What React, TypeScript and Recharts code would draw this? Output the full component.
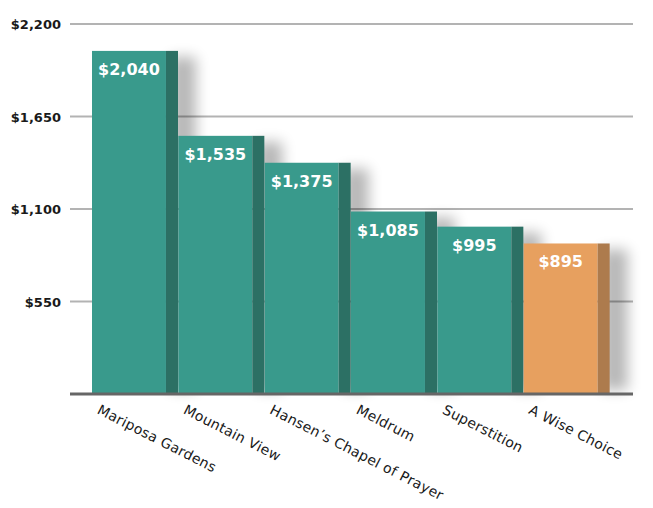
import React from "react";
import { Bar, BarChart, CartesianGrid, Cell, LabelList, XAxis, YAxis } from "recharts";

const categories = [
  "Mariposa Gardens",
  "Mountain View",
  "Hansen’s Chapel of Prayer",
  "Meldrum",
  "Superstition",
  "A Wise Choice",
];
const prices = [2040, 1535, 1375, 1085, 995, 895];
const priceTicks = [550, 1100, 1650, 2200];
const highlighted = "A Wise Choice";

const chartData = categories.map((name, i) => ({ name, price: prices[i] }));

const fmt = (v: number) => "$" + v.toLocaleString("en-US");

const FONT = "'DejaVu Sans', sans-serif";
const FRONT = 0.86;

function Block(props: any) {
  const { x, y, width, height, index, payload } = props;
  const orange = payload && payload.name === highlighted;
  const front = orange ? "#e7a05f" : "#399a8c";
  const side = orange ? "#ad7b4d" : "#2c7064";
  const fw = width * FRONT;
  const fid = `blk-shadow-${index}`;
  return (
    <g>
      <defs>
        <filter id={fid} x="-200%" y="-50%" width="500%" height="200%">
          <feGaussianBlur stdDeviation="7" />
        </filter>
      </defs>
      <rect
        x={x + width - 8}
        y={y + 6}
        width={26}
        height={Math.max(0, height - 10)}
        fill="#000"
        opacity={0.28}
        filter={`url(#${fid})`}
      />
      <rect x={x} y={y} width={fw} height={height} fill={front} />
      <rect x={x + fw} y={y} width={width - fw} height={height} fill={side} />
    </g>
  );
}

function PriceLabel(props: any) {
  const { x, y, width, value } = props;
  return (
    <text
      x={x + (width * FRONT) / 2}
      y={y + 24}
      textAnchor="middle"
      fill="#fff"
      fontFamily={FONT}
      fontWeight={700}
      fontSize={16}
    >
      {fmt(value)}
    </text>
  );
}

function CategoryTick(props: any) {
  const { x, y, payload } = props;
  const x0 = x - 39;
  const y0 = y + 11;
  return (
    <text
      x={x0}
      y={y0}
      transform={`rotate(27, ${x0}, ${y0})`}
      textAnchor="start"
      fill="#1a1a1a"
      fontFamily={FONT}
      fontSize={14}
      letterSpacing={0.3}
    >
      {payload.value}
    </text>
  );
}

function PriceTick(props: any) {
  const { y, payload } = props;
  return (
    <text
      x={61}
      y={y + 5}
      textAnchor="end"
      fill="#1a1a1a"
      fontFamily={FONT}
      fontWeight={700}
      fontSize={13}
    >
      {fmt(payload.value)}
    </text>
  );
}

export default function App() {
  return (
    <div style={{ position: "absolute", left: 0, top: 0, width: 653, height: 508, background: "#fff" }}>
      <BarChart
        width={653}
        height={508}
        data={chartData}
        margin={{ top: 24, right: 20, left: 0, bottom: 0 }}
        barCategoryGap={0}
        barGap={0}
      >
        <CartesianGrid vertical={false} stroke="#b3b3b3" strokeWidth={2} />
        <YAxis
          width={70}
          domain={[0, 2200]}
          ticks={priceTicks}
          axisLine={false}
          tickLine={false}
          tick={<PriceTick />}
        />
        <XAxis
          dataKey="name"
          height={114}
          interval={0}
          padding={{ left: 22, right: 23 }}
          axisLine={{ stroke: "#666", strokeWidth: 3 }}
          tickLine={false}
          tick={<CategoryTick />}
        />
        <Bar dataKey="price" shape={<Block />} isAnimationActive={false}>
          {chartData.map((d) => (
            <Cell key={d.name} />
          ))}
          <LabelList dataKey="price" content={<PriceLabel />} />
        </Bar>
      </BarChart>
    </div>
  );
}
